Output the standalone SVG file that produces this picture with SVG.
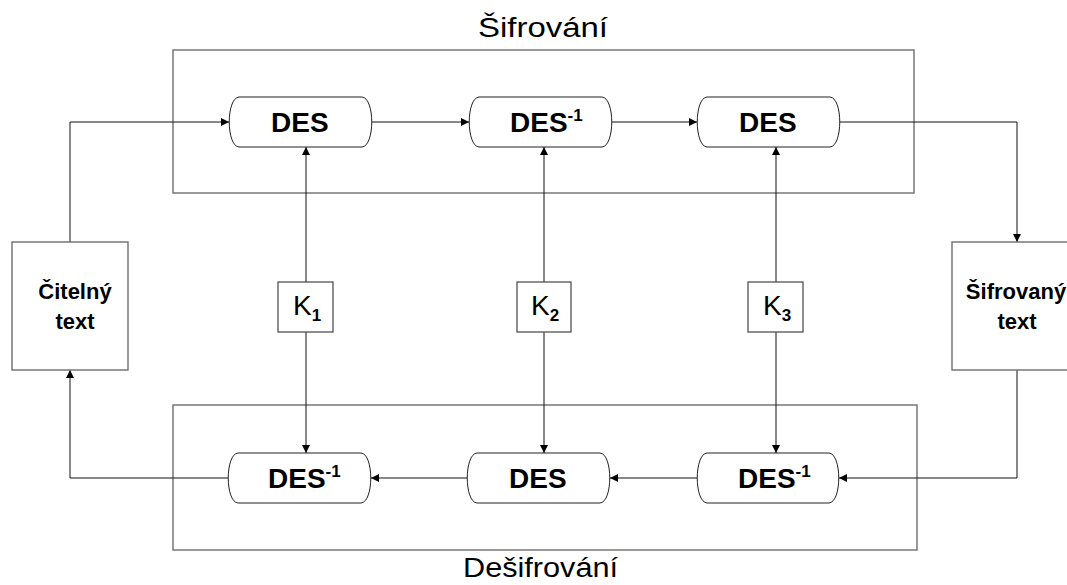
<svg xmlns="http://www.w3.org/2000/svg" width="1067" height="585" viewBox="0 0 1067 585">
  <style>
    .frame { fill: none; stroke: #6e6e6e; stroke-width: 1.4; }
    .box { fill: #ffffff; stroke: #6e6e6e; stroke-width: 1.4; }
    .des { fill: #ffffff; stroke: #222222; stroke-width: 1; }
    .kbox { fill: #ffffff; stroke: #444444; stroke-width: 1.2; }
    .wire { fill: none; stroke: #111111; stroke-width: 1; marker-end: url(#arrow); }
    .title { font-family: "Liberation Sans", Arial, sans-serif; font-size: 27px; fill: #000; }
    .des-t { font-family: "Liberation Sans", Arial, sans-serif; font-size: 28px; font-weight: bold; fill: #000; }
    .sup { font-size: 17px; }
    .k-t { font-family: "Liberation Sans", Arial, sans-serif; font-size: 28px; fill: #000; }
    .sub { font-size: 17px; font-weight: bold; }
    .lbl { font-family: "Liberation Sans", Arial, sans-serif; font-size: 22px; font-weight: bold; fill: #000; text-anchor: middle; }
  </style>
  <defs>
    <marker id="arrow" viewBox="0 0 10 10" refX="10" refY="5" markerWidth="9" markerHeight="8" markerUnits="userSpaceOnUse" orient="auto">
      <path d="M0,0 L10,5 L0,10 Z" fill="#000"/>
    </marker>
  </defs>

  <rect width="1067" height="585" fill="#ffffff"/>

  <!-- encryption / decryption frames -->
  <g id="encrypt-frame">
    <rect class="frame" x="173" y="50" width="741" height="143"/>
    <text class="title" x="478" y="37" textLength="130" lengthAdjust="spacingAndGlyphs">Šifrování</text>
  </g>
  <g id="decrypt-frame">
    <rect class="frame" x="173" y="405" width="744" height="145"/>
    <text class="title" x="463" y="577" textLength="155" lengthAdjust="spacingAndGlyphs">Dešifrování</text>
  </g>

  <!-- connectors -->
  <g id="connectors">
    <path class="wire" d="M70,242 V122 H229"/>
    <path class="wire" d="M372,122 H469"/>
    <path class="wire" d="M612,122 H697"/>
    <path class="wire" d="M840,122 H1017 V242"/>
    <path class="wire" d="M1017,370 V478 H839"/>
    <path class="wire" d="M697,478 H610"/>
    <path class="wire" d="M467,478 H371"/>
    <path class="wire" d="M228,478 H70 V370"/>
    <path class="wire" d="M306,282 V147"/>
    <path class="wire" d="M306,332 V453"/>
    <path class="wire" d="M544,282 V147"/>
    <path class="wire" d="M544,332 V453"/>
    <path class="wire" d="M776,282 V147"/>
    <path class="wire" d="M776,332 V453"/>
  </g>

  <!-- plaintext / ciphertext -->
  <g id="plaintext">
    <rect class="box" x="12" y="242" width="116" height="128"/>
    <text class="lbl" x="75" y="299">Čitelný</text>
    <text class="lbl" x="75" y="329">text</text>
  </g>
  <g id="ciphertext">
    <rect class="box" x="952" y="242" width="130" height="128"/>
    <text class="lbl" x="1016" y="299">Šifrovaný</text>
    <text class="lbl" x="1017" y="329">text</text>
  </g>

  <!-- encryption stages -->
  <g id="enc-des1">
    <path class="des" d="M239,97 H362 C375,98 375,146 362,147 H239 C226,146 226,98 239,97 Z"/>
    <text class="des-t" x="271" y="132">DES</text>
  </g>
  <g id="enc-des2">
    <path class="des" d="M479,97 H602 C615,98 615,146 602,147 H479 C466,146 466,98 479,97 Z"/>
    <text class="des-t" x="510" y="132">DES<tspan class="sup" dy="-11">-1</tspan></text>
  </g>
  <g id="enc-des3">
    <path class="des" d="M707,97 H830 C843,98 843,146 830,147 H707 C694,146 694,98 707,97 Z"/>
    <text class="des-t" x="739" y="132">DES</text>
  </g>

  <!-- keys -->
  <g id="key1">
    <rect class="kbox" x="278" y="282" width="55" height="50"/>
    <text class="k-t" x="293" y="315">K<tspan class="sub" dy="6">1</tspan></text>
  </g>
  <g id="key2">
    <rect class="kbox" x="517" y="282" width="54" height="50"/>
    <text class="k-t" x="531" y="315">K<tspan class="sub" dy="6">2</tspan></text>
  </g>
  <g id="key3">
    <rect class="kbox" x="748" y="282" width="55" height="50"/>
    <text class="k-t" x="763" y="315">K<tspan class="sub" dy="6">3</tspan></text>
  </g>

  <!-- decryption stages -->
  <g id="dec-des1">
    <path class="des" d="M238,453 H361 C374,454 374,502 361,503 H238 C225,502 225,454 238,453 Z"/>
    <text class="des-t" x="268" y="488">DES<tspan class="sup" dy="-11">-1</tspan></text>
  </g>
  <g id="dec-des2">
    <path class="des" d="M477,453 H600 C613,454 613,502 600,503 H477 C464,502 464,454 477,453 Z"/>
    <text class="des-t" x="509" y="488">DES</text>
  </g>
  <g id="dec-des3">
    <path class="des" d="M707,453 H829 C842,454 842,502 829,503 H707 C694,502 694,454 707,453 Z"/>
    <text class="des-t" x="738" y="488">DES<tspan class="sup" dy="-11">-1</tspan></text>
  </g>
</svg>
